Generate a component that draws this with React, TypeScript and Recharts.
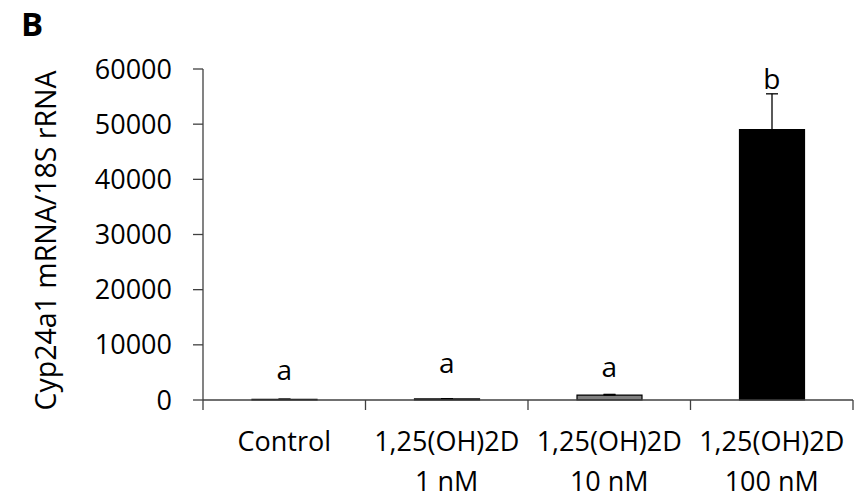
import React from 'react';
import { ComposedChart, Bar, Cell, ErrorBar, Line, XAxis, YAxis } from 'recharts';

// ---- data ----
const categoryLine1 = ['Control', '1,25(OH)2D', '1,25(OH)2D', '1,25(OH)2D'];
const categoryLine2 = ['', '1 nM', '10 nM', '100 nM'];
const cyp24a1Values = [120, 200, 900, 49000];
const cyp24a1Errors = [20, 40, 120, 6500];
const letters = ['a', 'a', 'a', 'b'];
const letterValues = [3600, 4900, 4200, 56400];
const yTicks = [0, 10000, 20000, 30000, 40000, 50000, 60000];
const yLabel = 'Cyp24a1 mRNA/18S rRNA';
const panelLabel = 'B';

// ---- styles ----
const barFills = ['#ffffff', '#d9d9d9', '#7f7f7f', '#000000'];
const FONT = '"Open Sans", sans-serif';
const FS = 27;
const AXIS_COLOR = '#404040';
const TEXT_COLOR = '#000000';

const data = categoryLine1.map((c, i) => ({
  key: `${c} ${categoryLine2[i]}`.trim(),
  line1: c,
  line2: categoryLine2[i],
  value: cyp24a1Values[i],
  err: [0, cyp24a1Errors[i]],
  letter: letters[i],
  letterY: letterValues[i],
}));

const XTick = (props: any) => {
  const { x, y, payload, index, width, visibleTicksCount } = props;
  const n = visibleTicksCount || data.length;
  const bw = (width || 650) / n;
  const d = data[index] || data.find((e) => e.key === payload.value);
  return (
    <g>
      <line x1={x - bw / 2} x2={x - bw / 2} y1={y} y2={y + 10} stroke={AXIS_COLOR} strokeWidth={1.3} />
      {index === n - 1 && (
        <line x1={x + bw / 2} x2={x + bw / 2} y1={y} y2={y + 10} stroke={AXIS_COLOR} strokeWidth={1.3} />
      )}
      <text x={x} y={y + 51} textAnchor="middle" fontFamily={FONT} fontSize={FS} fill={TEXT_COLOR}>
        {d ? d.line1 : ''}
      </text>
      <text x={x} y={y + 91} textAnchor="middle" fontFamily={FONT} fontSize={FS} fill={TEXT_COLOR}>
        {d ? d.line2 : ''}
      </text>
    </g>
  );
};

const renderLetter = (props: any) => {
  const { cx, cy, index, payload } = props;
  return (
    <text key={`letter-${index}`} x={cx} y={cy} textAnchor="middle" fontFamily={FONT} fontSize={28} fill={TEXT_COLOR}>
      {payload.letter}
    </text>
  );
};

const YLabel = (props: any) => {
  const vb = props.viewBox || {};
  const cy = vb.y !== undefined ? vb.y + vb.height / 2 + 6 : 241;
  const cx = 45;
  return (
    <text
      x={cx}
      y={cy}
      transform={`rotate(-90, ${cx}, ${cy})`}
      textAnchor="middle"
      dominantBaseline="central"
      fontFamily={FONT}
      fontSize={28.5}
      fill={TEXT_COLOR}
    >
      {yLabel}
    </text>
  );
};

export default function App() {
  return (
    <div style={{ position: 'absolute', left: 0, top: 0, width: 856, height: 500, background: '#fff' }}>
      <svg width={70} height={50} style={{ position: 'absolute', left: 0, top: 0 }}>
        <text x={21} y={36} fontFamily={FONT} fontWeight={700} fontSize={33} fill="#000">
          {panelLabel}
        </text>
      </svg>
      <ComposedChart
        width={856}
        height={500}
        data={data}
        margin={{ top: 69, right: 3, bottom: 0, left: 0 }}
      >
        <XAxis
          dataKey="key"
          type="category"
          height={100}
          tickLine={false}
          tickSize={0}
          tickMargin={0}
          interval={0}
          axisLine={{ stroke: AXIS_COLOR, strokeWidth: 1.3 }}
          tick={<XTick />}
        />
        <YAxis
          type="number"
          domain={[0, 60000]}
          ticks={yTicks}
          interval={0}
          width={203}
          tickSize={10}
          tickMargin={21}
          axisLine={{ stroke: AXIS_COLOR, strokeWidth: 1.3 }}
          tickLine={{ stroke: AXIS_COLOR, strokeWidth: 1.3 }}
          tick={{ fontFamily: FONT, fontSize: FS, fill: TEXT_COLOR }}
          label={<YLabel />}
        />
        <Bar dataKey="value" barSize={65} stroke="#000" strokeWidth={1.2} isAnimationActive={false}>
          {data.map((d, i) => (
            <Cell key={d.key} fill={barFills[i]} />
          ))}
          <ErrorBar dataKey="err" width={6} stroke="#000" strokeWidth={1.3} direction="y" />
        </Bar>
        <Line
          dataKey="letterY"
          stroke="none"
          isAnimationActive={false}
          activeDot={false}
          dot={renderLetter}
          legendType="none"
        />
      </ComposedChart>
    </div>
  );
}
